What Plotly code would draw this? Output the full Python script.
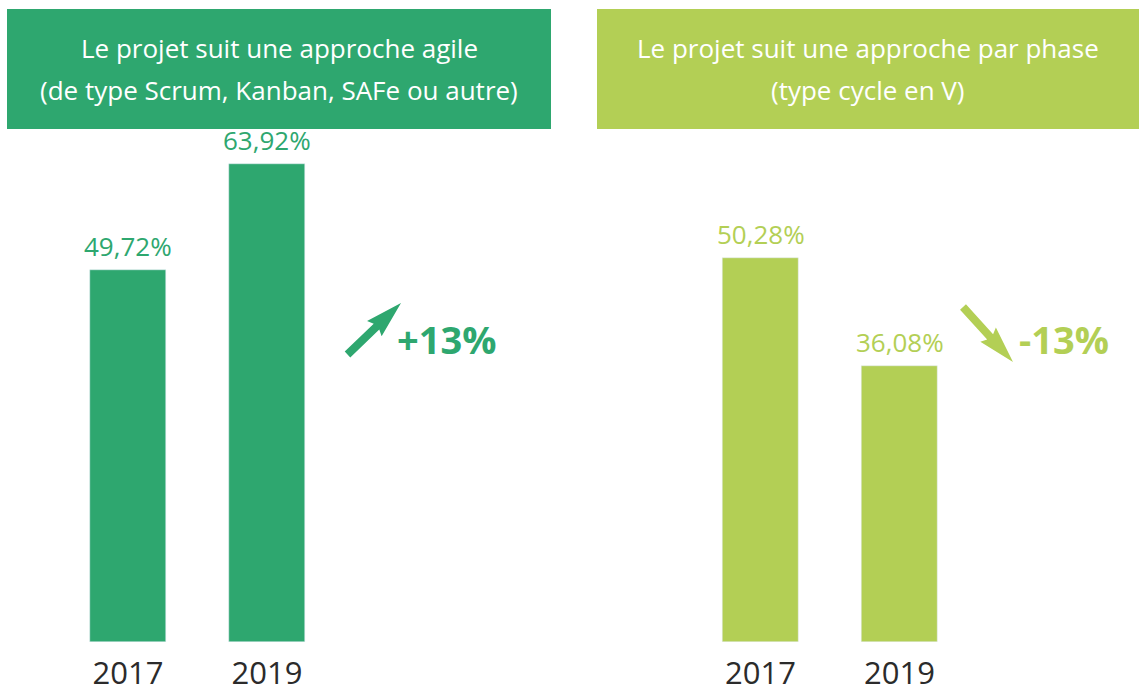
import math
import plotly.graph_objects as go

years = ["2017", "2019"]
agile_values = [49.72, 63.92]
phase_values = [50.28, 36.08]
agile_labels = ["49,72%", "63,92%"]
phase_labels = ["50,28%", "36,08%"]
agile_title = ["Le projet suit une approche agile", "(de type Scrum, Kanban, SAFe ou autre)"]
phase_title = ["Le projet suit une approche par phase", "(type cycle en V)"]
agile_delta = "+13%"
phase_delta = "-13%"

DARK = "#2ea76f"
LIGHT = "#b3cf55"
W, H = 1139, 687
FONT = "Open Sans"


def px(x):
    return x / W


def py(y):
    return 1 - y / H


fig = go.Figure()
fig.add_trace(go.Bar(x=years, y=agile_values, marker_color=DARK, width=0.547,
                     xaxis="x", yaxis="y", hoverinfo="skip"))
fig.add_trace(go.Bar(x=years, y=phase_values, marker_color=LIGHT, width=0.547,
                     xaxis="x2", yaxis="y2", hoverinfo="skip"))

# value labels above the bars (category index positions)
for ys, labs, col, xr, yr in [(agile_values, agile_labels, DARK, "x", "y"),
                              (phase_values, phase_labels, LIGHT, "x2", "y2")]:
    for i, (yv, lab) in enumerate(zip(ys, labs)):
        fig.add_annotation(x=i, y=yv, xref=xr, yref=yr, text=lab, showarrow=False,
                           xanchor="center", yanchor="bottom", yshift=4,
                           font=dict(color=col, size=26, family=FONT))

# x layout: 139 px per category; left bars centred at 128 / 267, right at 760.5 / 900
PPU = 139.0
split = 0.5
lw = split * W
rw = W - lw
r_left0 = -128 / PPU
r_right0 = -(760.5 - lw) / PPU
ydom = [py(642), 1]
axis_common = dict(showgrid=False, zeroline=False, showline=False, ticks="", automargin=False,
                   tickfont=dict(size=31, color="#2b2b2b", family=FONT), ticklabelstandoff=10)
fig.update_layout(
    width=W, height=H, margin=dict(l=0, r=0, t=0, b=0),
    paper_bgcolor="white", plot_bgcolor="white", showlegend=False,
    bargap=0,
    xaxis=dict(domain=[0, split], type="category", range=[r_left0, r_left0 + lw / PPU], **axis_common),
    xaxis2=dict(domain=[split, 1], type="category", range=[r_right0, r_right0 + rw / PPU], **axis_common),
    yaxis=dict(domain=ydom, range=[0, 642 / 7.48], visible=False, automargin=False),
    yaxis2=dict(domain=ydom, range=[0, 642 / 7.64], visible=False, anchor="x2", automargin=False),
)

# header boxes
fig.add_shape(type="rect", xref="paper", yref="paper", x0=px(7), x1=px(551), y0=py(129), y1=py(9),
              fillcolor=DARK, line_width=0, layer="below")
fig.add_shape(type="rect", xref="paper", yref="paper", x0=px(597), x1=px(1139), y0=py(129), y1=py(9),
              fillcolor=LIGHT, line_width=0, layer="below")
for cx, lines in [(279, agile_title), (868, phase_title)]:
    for i, t in enumerate(lines):
        fig.add_annotation(text=t, xref="paper", yref="paper", x=px(cx), y=py(48 + 42 * i),
                           showarrow=False, font=dict(color="white", size=26, family=FONT),
                           xanchor="center", yanchor="middle")


# arrows drawn as filled polygons (pixel geometry converted to paper coords)
def arrow_path(tail, tip, shaft=4.0, head_len=34.0, head_half=10.5):
    dx, dy = tip[0] - tail[0], tip[1] - tail[1]
    L = math.hypot(dx, dy)
    ux, uy = dx / L, dy / L
    nx, ny = -uy, ux
    bx, by = tip[0] - ux * head_len, tip[1] - uy * head_len
    pts = [
        (tail[0] + nx * shaft, tail[1] + ny * shaft),
        (bx + nx * shaft, by + ny * shaft),
        (bx + nx * head_half - ux * 3, by + ny * head_half - uy * 3),
        tip,
        (bx - nx * head_half - ux * 3, by - ny * head_half - uy * 3),
        (bx - nx * shaft, by - ny * shaft),
        (tail[0] - nx * shaft, tail[1] - ny * shaft),
    ]
    return "M " + " L ".join(f"{px(x):.5f},{py(y):.5f}" for x, y in pts) + " Z"


fig.add_shape(type="path", xref="paper", yref="paper", path=arrow_path((347.5, 354.5), (401, 303)),
              fillcolor=DARK, line_width=0)
fig.add_shape(type="path", xref="paper", yref="paper", path=arrow_path((963, 307), (1013, 362)),
              fillcolor=LIGHT, line_width=0)

fig.add_annotation(text="<b>" + agile_delta + "</b>", xref="paper", yref="paper", x=px(447), y=py(339),
                   showarrow=False, xanchor="center", yanchor="middle",
                   font=dict(color=DARK, size=38, family=FONT))
fig.add_annotation(text="<b>" + phase_delta + "</b>", xref="paper", yref="paper", x=px(1064), y=py(339),
                   showarrow=False, xanchor="center", yanchor="middle",
                   font=dict(color=LIGHT, size=38, family=FONT))

fig.write_html("out.html", config={"displayModeBar": False},
               post_script="document.body.style.margin='0';document.body.style.overflow='hidden';")
